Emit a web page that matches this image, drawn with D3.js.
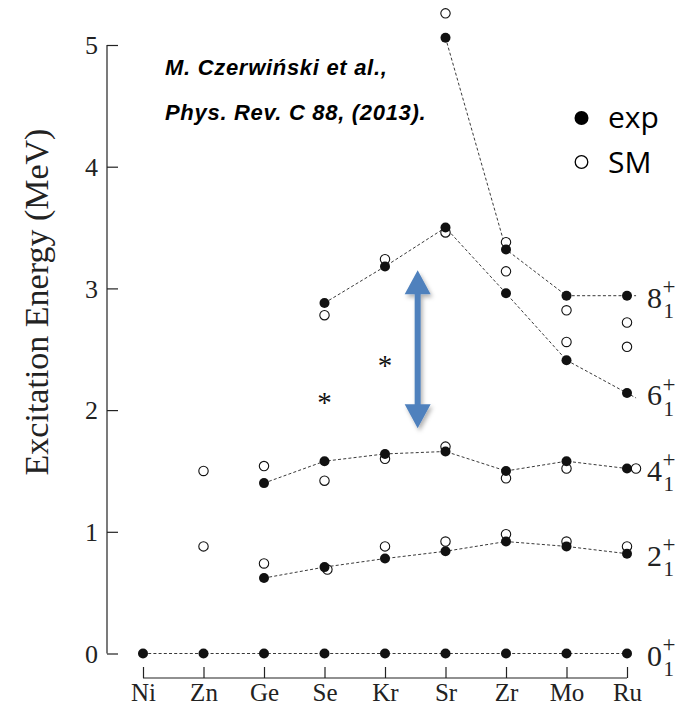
<!DOCTYPE html>
<html>
<head>
<meta charset="utf-8">
<script src="https://cdn.jsdelivr.net/npm/d3@7/dist/d3.min.js"></script>
<style>
  html, body { margin: 0; padding: 0; background: #fff; }
  svg { display: block; }
</style>
</head>
<body>
<svg id="chart" width="683" height="706"></svg>
<script>
// Isotones along N = 40 ... Ru
const nuclei = ["Ni", "Zn", "Ge", "Se", "Kr", "Sr", "Zr", "Mo", "Ru"];

// Experimental yrast levels (MeV), connected by dashed lines
const exp0 = [0, 0, 0, 0, 0, 0, 0, 0, 0];
const exp2 = [null, null, 0.62, 0.71, 0.78, 0.84, 0.92, 0.88, 0.82];
const exp4 = [null, null, 1.40, 1.58, 1.64, 1.66, 1.50, 1.58, 1.52];
const exp6 = [null, null, null, 2.88, 3.18, 3.50, 2.96, 2.41, 2.14];
const exp8 = [null, null, null, null, null, 5.06, 3.32, 2.94, 2.94];

// Shell-model levels (MeV)
const sm2 = [null, 0.88, 0.74, 0.69, 0.88, 0.92, 0.98, 0.92, 0.88];
const sm4 = [null, 1.50, 1.54, 1.42, 1.60, 1.70, 1.44, 1.52, 1.52];
const sm6 = [null, null, null, 2.78, 3.24, 3.46, 3.14, 2.56, 2.52];
const sm8 = [null, null, null, null, null, 5.26, 3.38, 2.82, 2.72];

// Tentative levels
const tentative = [null, null, null, 2.10, 2.40, null, null, null, null];

// Level labels at the right end
const levelSpins = ["0", "2", "4", "6", "8"];
const yTicks = [0, 1, 2, 3, 4, 5];

const svg = d3.select("#chart");

const x = d3.scalePoint().domain(nuclei).range([143, 627]);
const y = d3.scaleLinear().domain([0, 5]).range([653.5, 45]);

const serif = "'Liberation Serif', 'Times New Roman', serif";
const ink = "#222";

// --- axes -------------------------------------------------------------
const yAxis = svg.append("g").attr("transform", "translate(107,0)")
  .call(d3.axisRight(y).tickValues(yTicks).tickSize(11).tickFormat(d3.format("d")));
yAxis.select(".domain").attr("d", `M0,${y(5)}V${y(0)}`).attr("stroke", ink).attr("stroke-width", 1.2);
yAxis.selectAll(".tick line").attr("stroke", ink).attr("stroke-width", 1.2);
yAxis.selectAll(".tick text")
  .attr("x", -9).attr("dy", "0.34em").attr("text-anchor", "end")
  .attr("font-family", serif).attr("font-size", 26).attr("fill", ink);

const xAxis = svg.append("g").attr("transform", "translate(0,678)")
  .call(d3.axisTop(x).tickSize(11).tickFormat(d => d));
xAxis.select(".domain").attr("d", `M${x("Ni")},0H${x("Ru")}`).attr("stroke", ink).attr("stroke-width", 1.2);
xAxis.selectAll(".tick line").attr("stroke", ink).attr("stroke-width", 1.2);
xAxis.selectAll(".tick text")
  .attr("y", 23).attr("dy", 0).attr("text-anchor", "middle")
  .attr("font-family", serif).attr("font-size", 25).attr("fill", ink);

svg.append("text")
  .attr("transform", `translate(48,302) rotate(-90)`)
  .attr("text-anchor", "middle")
  .attr("font-family", serif).attr("font-size", 34).attr("fill", ink)
  .text("Excitation Energy (MeV)");

// --- dashed level lines -----------------------------------------------
const asPoints = arr => nuclei.map((n, i) => ({ n, v: arr[i] })).filter(p => p.v !== null);
const expSeries = [exp0, exp2, exp4, exp6, exp8];

// the two upper bands run on a little past the last nucleus, toward their label
const bandPath = (s, k) => {
  const pts = asPoints(s).map(p => [x(p.n), y(p.v)]);
  if (k >= 3) {
    const [x1, y1] = pts[pts.length - 2], [x2, y2] = pts[pts.length - 1];
    const t = 0.15;
    pts.push([x2 + (x2 - x1) * t, y2 + (y2 - y1) * t]);
  }
  return d3.line()(pts);
};

svg.append("g").selectAll("path").data(expSeries).join("path")
  .attr("d", (s, k) => bandPath(s, k))
  .attr("fill", "none").attr("stroke", ink).attr("stroke-width", 0.9)
  .attr("stroke-dasharray", "3,2.2");

// --- shell-model points (open) ----------------------------------------
const smSeries = [sm2, sm4, sm6, sm8];
const smPts = [];
smSeries.forEach((s, k) => {
  const e = expSeries[k + 1];
  s.forEach((v, i) => {
    if (v === null) return;
    // nudge an open circle sideways when it sits on top of the filled one
    let dx = 0;
    if (e[i] !== null) {
      const dist = Math.abs(y(v) - y(e[i]));
      dx = Math.max(0, 9 - 2.5 * dist);
    }
    smPts.push({ n: nuclei[i], v, dx });
  });
});

svg.append("g").selectAll("circle").data(smPts).join("circle")
  .attr("cx", d => x(d.n) + d.dx).attr("cy", d => y(d.v)).attr("r", 4.7)
  .attr("fill", "#fff").attr("stroke", "#111").attr("stroke-width", 1.1);

// --- experimental points (filled) -------------------------------------
const expPts = [];
expSeries.forEach(s => s.forEach((v, i) => { if (v !== null) expPts.push({ n: nuclei[i], v }); }));

svg.append("g").selectAll("circle").data(expPts).join("circle")
  .attr("cx", d => x(d.n)).attr("cy", d => y(d.v)).attr("r", 5)
  .attr("fill", "#111");

// --- tentative levels --------------------------------------------------
svg.append("g").selectAll("text")
  .data(nuclei.map((n, i) => ({ n, v: tentative[i] })).filter(d => d.v !== null))
  .join("text")
  .attr("x", d => x(d.n)).attr("y", d => y(d.v) + 14)
  .attr("text-anchor", "middle")
  .attr("font-family", serif).attr("font-size", 29).attr("fill", "#111")
  .text("*");

// --- level labels: J with subscript 1 and superscript + ----------------
const last = nuclei.length - 1;
const lab = svg.append("g").selectAll("text")
  .data(levelSpins.map((s, k) => ({ s, v: expSeries[k][last] })))
  .join("text")
  .attr("x", 647).attr("y", d => y(d.v) + 12)
  .attr("font-family", serif).attr("font-size", 30).attr("fill", ink);
lab.append("tspan").text(d => d.s);
lab.append("tspan").attr("x", 662.5).attr("dy", -13.5).attr("font-size", 23).text("+");
lab.append("tspan").attr("x", 663.5).attr("dy", 24).attr("font-size", 21).text("1");

// --- double arrow between the 4+ and 6+ bands --------------------------
const defs = svg.append("defs");
const f = defs.append("filter").attr("id", "shadow").attr("x", "-50%").attr("y", "-20%").attr("width", "200%").attr("height", "140%");
f.append("feDropShadow").attr("dx", 2).attr("dy", 3).attr("stdDeviation", 2.2)
  .attr("flood-color", "#000").attr("flood-opacity", 0.3);

const ax = x("Kr") + 0.54 * x.step();
const aTop = y(3.15), aBot = y(1.85);
const head = 24, hw = 13, sw = 3;
const arrowPath = d3.path();
arrowPath.moveTo(ax, aTop);
arrowPath.lineTo(ax + hw, aTop + head);
arrowPath.lineTo(ax + sw, aTop + head);
arrowPath.lineTo(ax + sw, aBot - head);
arrowPath.lineTo(ax + hw, aBot - head);
arrowPath.lineTo(ax, aBot);
arrowPath.lineTo(ax - hw, aBot - head);
arrowPath.lineTo(ax - sw, aBot - head);
arrowPath.lineTo(ax - sw, aTop + head);
arrowPath.lineTo(ax - hw, aTop + head);
arrowPath.closePath();
svg.append("path").attr("d", arrowPath.toString())
  .attr("fill", "#4F81BD").attr("filter", "url(#shadow)");

// --- reference note ----------------------------------------------------
const note = svg.append("g")
  .attr("font-family", "'Liberation Sans', Arial, Helvetica, sans-serif")
  .attr("font-weight", "bold").attr("font-style", "italic")
  .attr("font-size", 22).attr("letter-spacing", 0.7).attr("fill", "#000");
note.append("text").attr("x", 165).attr("y", 75).text("M. Czerwiński et al.,");
note.append("text").attr("x", 165).attr("y", 120).text("Phys. Rev. C 88, (2013).");

// --- legend ------------------------------------------------------------
const legend = svg.append("g").attr("font-family", "'Open Sans', sans-serif").attr("font-size", 30).attr("fill", "#000");
legend.append("circle").attr("cx", 581.5).attr("cy", 118).attr("r", 7).attr("fill", "#000");
legend.append("text").attr("x", 608).attr("y", 127.5).text("exp");
legend.append("circle").attr("cx", 581.5).attr("cy", 162).attr("r", 6.3).attr("fill", "#fff").attr("stroke", "#000").attr("stroke-width", 1.3);
legend.append("text").attr("x", 608).attr("y", 173).text("SM");
</script>
</body>
</html>
